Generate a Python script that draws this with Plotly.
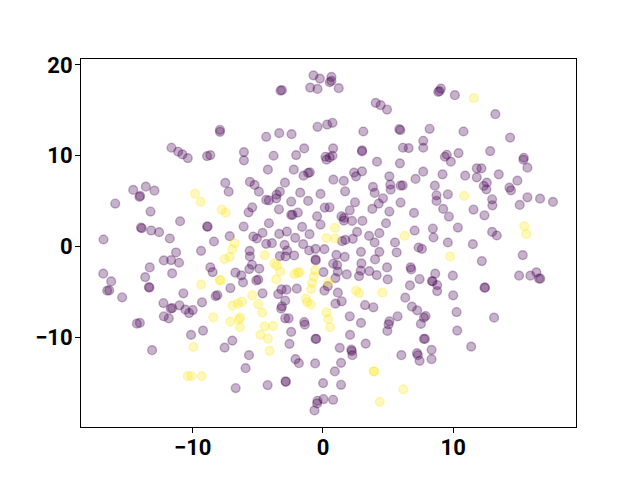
import plotly.graph_objects as go

purple_x = [
-0.73,-0.24,-0.98,-0.42,-3.26,-3.15,-7.91,-7.91,-0.42,-3.36,-4.36,-2.41,-11.63,-11.12,-10.79,-10.38,-8.90,-8.65,-6.07,-6.07,-3.79,-2.06,-1.44,-4.23,-2.24,-1.49,-1.14,-1.01,-7.50,-5.61,-5.25,-4.92,-7.24,-2.92,-3.31,-3.56,-3.59,-4.36,-4.15,-1.75,-1.14,-2.44,-0.19,-13.60,-14.57,-12.94,-14.04,-14.09,-15.95,-13.24,-5.43,-5.71,-3.38,-1.93,-2.44,-2.34,-0.45,-10.97,-13.98,-13.91,-13.19,-12.58,-8.90,-8.85,-6.09,-4.15,-1.60,-0.19,-11.76,-16.85,-8.37,-7.16,-5.35,-5.07,-4.64,-3.36,-2.77,-2.13,-1.03,-3.92,-4.36,-2.95,-1.52,
0.65,0.65,0.52,1.21,9.05,8.95,8.85,10.13,4.05,4.43,4.92,13.24,5.86,5.94,8.19,3.10,10.79,0.73,0.32,14.37,7.70,7.70,6.14,6.58,0.78,3.00,3.00,12.84,10.41,9.51,9.36,9.82,15.42,15.39,15.70,0.73,0.52,0.19,0.27,4.15,5.91,11.81,12.17,7.70,2.39,2.54,3.00,5.10,13.50,9.18,10.92,11.81,7.11,0.80,1.60,14.93,8.59,3.84,5.17,5.20,5.96,6.12,12.58,12.35,12.55,14.32,14.44,1.70,3.97,8.72,8.72,9.59,15.70,16.67,17.66,4.61,4.28,5.96,2.46,12.99,13.01,15.11,0.14,0.50,3.79,2.06,9.23,11.56,5.10,6.99,1.42,1.62,1.60,2.23,3.03,12.40,9.67,4.84,10.36,8.44,7.04,2.62,12.99,13.35,4.33,3.54,2.29,1.72,1.47,8.49,3.97,5.53,9.59,11.51,
-5.63,-5.61,-9.36,-11.28,-12.22,-11.66,-11.05,-3.31,-2.87,-2.75,-2.21,-0.57,-0.55,-1.06,-0.57,0.11,-8.65,-8.47,-13.30,-13.65,-11.58,-16.87,-16.26,-16.57,-16.41,-13.37,-13.32,-6.73,-6.27,-6.14,-5.45,-5.66,-4.89,-5.12,-4.97,0.04,-7.11,-10.72,-15.42,-8.24,-8.11,-4.64,-3.18,-3.44,-2.80,-2.01,0.11,0.37,-2.90,-3.15,-3.21,-12.25,-11.02,-11.69,-11.58,-10.56,-10.28,-10.00,-9.29,-12.22,-11.84,-2.90,-2.64,-14.29,-14.06,-1.44,-1.39,-9.21,-10.13,-2.44,-6.96,-7.55,-2.57,-0.57,-0.52,-13.12,-5.68,-2.11,-1.85,-0.60,-5.94,-6.70,-4.25,-2.87,-2.85,0.01,-0.42,0.04,-0.45,-0.65,
1.03,1.67,2.92,4.33,4.00,5.66,7.34,7.60,12.20,15.34,0.78,1.09,2.95,4.92,6.73,6.78,2.90,3.56,1.14,1.83,2.77,0.96,4.13,4.97,7.42,8.62,9.97,8.37,8.42,8.77,8.77,6.68,1.14,10.00,15.06,15.93,16.39,16.59,16.69,12.40,12.45,6.32,1.44,0.96,3.23,3.87,6.83,7.24,7.88,7.75,5.73,2.06,2.92,5.10,5.04,4.94,7.52,10.26,13.14,10.31,2.08,3.28,1.29,2.18,2.21,2.26,1.39,0.91,6.02,7.22,7.29,7.42,8.34,8.34,7.75,7.83,11.38,1.39,0.78,
]
purple_y = [
18.86,18.50,17.51,17.36,17.18,17.22,12.86,12.64,13.19,12.49,12.09,12.38,10.88,10.44,10.15,9.74,9.96,10.07,10.40,9.49,10.00,10.07,10.81,8.46,8.46,7.80,8.10,8.17,7.00,7.11,6.78,6.04,6.04,7.03,6.04,5.71,5.31,5.13,5.09,5.93,5.02,4.95,5.79,6.59,6.23,6.15,5.57,5.46,4.73,3.85,4.32,3.77,4.10,3.74,3.48,3.48,3.33,2.78,2.09,2.01,1.76,1.58,2.20,2.20,2.20,2.56,2.16,2.42,0.88,0.77,0.55,1.14,1.10,0.88,1.50,1.39,1.65,0.95,1.36,0.37,0.29,0.18,0.26,
18.68,18.24,18.10,17.44,17.40,17.11,17.03,16.67,15.82,15.57,15.09,14.58,12.93,12.82,12.97,12.67,12.67,13.63,13.44,12.00,11.65,10.88,10.88,10.84,10.81,10.59,10.48,10.51,10.29,10.11,9.89,9.34,9.78,9.56,8.68,10.00,9.82,9.89,9.56,9.34,9.16,8.61,8.61,8.24,8.13,7.73,8.28,7.73,7.95,7.95,7.80,7.62,7.44,7.36,7.22,7.25,6.70,6.56,6.81,6.26,6.70,6.74,7.03,6.67,6.30,6.48,6.19,6.08,5.90,5.64,5.02,5.75,5.42,5.27,4.91,5.31,4.73,4.84,4.87,5.20,4.54,4.58,4.29,4.32,4.14,3.99,4.14,4.07,3.85,3.70,3.33,3.15,2.86,2.82,2.82,3.44,3.30,2.56,2.09,1.98,1.76,1.61,1.61,1.21,1.47,1.17,0.84,0.73,0.59,0.99,0.44,0.44,0.44,0.26,
-0.48,-1.10,-0.48,-0.66,-1.54,-1.50,-1.79,-1.06,-1.10,-0.44,-0.99,-1.43,-1.54,-0.44,-0.26,-0.29,-2.31,-2.82,-2.31,-3.37,-2.97,-3.00,-3.85,-4.87,-4.84,-4.47,-4.54,-2.89,-3.19,-3.96,-2.01,-2.49,-2.45,-3.74,-3.66,-2.82,-4.58,-5.16,-5.60,-5.46,-5.35,-5.16,-4.73,-5.24,-4.76,-4.65,-4.87,-4.36,-5.97,-6.59,-6.85,-6.23,-6.48,-6.85,-6.78,-6.96,-7.33,-7.00,-6.15,-7.69,-7.91,-7.91,-7.91,-8.50,-8.42,-8.32,-8.61,-9.27,-9.74,-9.41,-10.37,-11.14,-10.73,-10.18,-10.18,-11.43,-11.98,-12.42,-12.86,-12.89,-13.41,-15.60,-15.27,-14.87,-14.91,-15.05,-17.00,-16.81,-17.29,-18.06,
-0.92,-1.14,-0.59,-0.59,-1.43,-0.66,-0.11,-0.26,-1.61,-0.95,-1.90,-2.05,-1.87,-2.31,-2.31,-2.53,-2.67,-2.71,-2.78,-3.08,-3.26,-3.48,-3.15,-3.63,-3.59,-3.00,-3.22,-3.81,-3.85,-4.25,-4.91,-4.29,-5.09,-5.38,-3.22,-3.22,-2.86,-3.55,-3.55,-4.54,-4.54,-5.64,-6.04,-6.30,-6.45,-6.70,-6.63,-7.03,-7.66,-7.84,-7.69,-7.69,-8.42,-8.24,-8.57,-9.30,-8.53,-7.22,-7.84,-9.27,-9.74,-10.70,-11.17,-11.36,-11.54,-11.98,-12.82,-13.77,-11.98,-11.76,-11.98,-12.60,-11.39,-12.42,-10.18,-10.18,-11.03,-15.24,-16.89,
]
yellow_x = [
-9.82,-9.39,-7.78,-7.47,-6.78,
11.58,10.84,0.91,0.27,0.93,6.27,15.47,15.62,
-6.96,-7.16,-7.55,-4.48,-3.72,-3.54,-3.28,-2.18,-1.93,-1.80,-0.60,-0.70,-0.83,-0.91,-3.59,-9.36,-7.93,-7.85,-5.43,-6.22,-6.53,-6.94,-4.97,-1.32,-1.21,-0.93,-4.66,-8.42,-6.37,-6.45,-7.11,-6.37,-4.48,-3.84,-4.81,-4.23,-4.10,-9.95,-10.38,-10.10,-9.31,
9.77,0.42,2.54,2.77,4.56,0.27,0.40,0.55,3.90,3.92,6.17,4.36,
]
yellow_y = [
5.82,4.91,4.07,3.74,0.37,
16.34,5.57,2.05,0.95,0.88,1.17,2.23,1.36,
-0.29,-1.14,-1.39,-0.95,-1.87,-2.12,-2.78,-3.04,-2.89,-2.86,-2.64,-3.33,-4.03,-4.69,-3.63,-4.21,-3.70,-3.74,-5.38,-6.08,-6.30,-6.52,-6.34,-5.75,-6.12,-6.41,-7.29,-7.80,-7.84,-8.06,-8.28,-8.90,-8.79,-8.75,-9.74,-10.15,-11.50,-11.06,-14.29,-14.29,-14.29,
-1.10,-3.92,-4.87,-5.13,-5.09,-7.25,-7.99,-8.90,-13.77,-13.77,-15.75,-17.11,
]
x_ticks = [-10, 0, 10]
y_ticks = [-10, 0, 10, 20]
tick_label = lambda v: str(v).replace("-", "\u2212")

fig = go.Figure()
for xs, ys, c in [(purple_x, purple_y, "68,1,84"), (yellow_x, yellow_y, "253,231,37")]:
    fig.add_trace(go.Scatter(
        x=xs, y=ys, mode="markers", showlegend=False,
        marker=dict(size=8.8, color=f"rgba({c},0.3)",
                    line=dict(width=1.4, color=f"rgba({c},0.3)")),
    ))

axis = dict(showgrid=False, zeroline=False, showline=True, linecolor="black", linewidth=1,
            mirror=True, ticks="outside", ticklen=5, tickwidth=1, tickcolor="black",
            tickfont=dict(family="Roboto", size=22, color="black", weight="bold"))
fig.update_layout(
    width=632, height=472, margin=dict(l=73, r=64, t=51, b=53),
    paper_bgcolor="white", plot_bgcolor="white",
    xaxis=dict(axis, range=[-18.58, 19.43], tickvals=x_ticks, ticktext=[tick_label(v) for v in x_ticks], ticklabelstandoff=-4),
    yaxis=dict(axis, range=[-19.89, 20.66], tickvals=y_ticks, ticktext=[tick_label(v) for v in y_ticks], ticklabelstandoff=-2),
)
fig.write_html("out.html")
